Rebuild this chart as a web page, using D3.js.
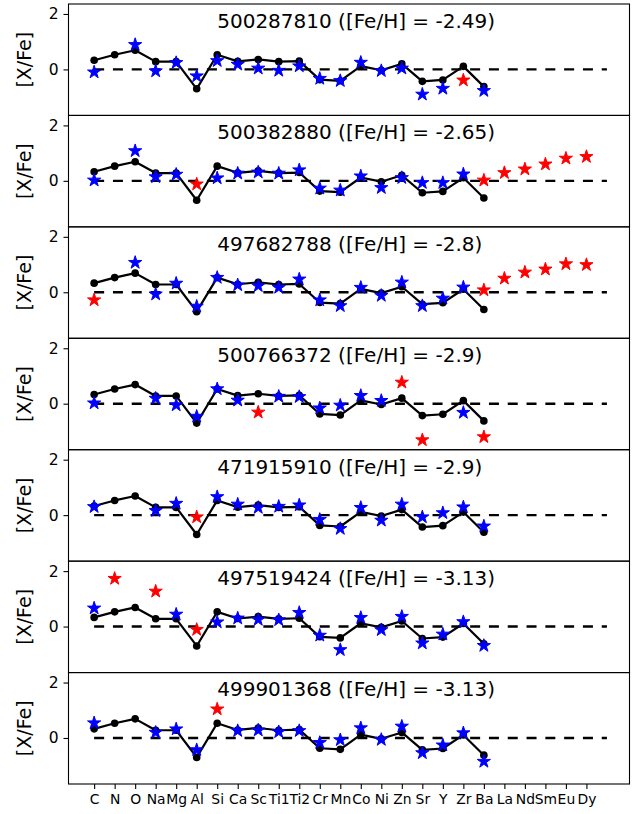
<!DOCTYPE html>
<html>
<head>
<meta charset="utf-8">
<script src="https://cdn.jsdelivr.net/npm/d3@7"></script>
<style>
  html, body { margin: 0; padding: 0; background: #fff; }
  svg { display: block; font-family: "DejaVu Sans", sans-serif; }
</style>
</head>
<body>
<svg id="chart" width="636" height="814"></svg>
<script>
const N = null;
const categories = ["C","N","O","Na","Mg","Al","Si","Ca","Sc","Ti1","Ti2","Cr","Mn","Co","Ni","Zn","Sr","Y","Zr","Ba","La","Nd","Sm","Eu","Dy"];
// reference pattern (black line), C .. Ba
const refPattern = [0.33,0.53,0.69,0.28,0.28,-0.70,0.53,0.29,0.36,0.28,0.30,-0.37,-0.41,0.12,-0.03,0.20,-0.43,-0.38,0.11,-0.62];
const starIds = ["500287810","500382880","497682788","500766372","471915910","497519424","499901368"];
const starFeH = ["-2.49","-2.65","-2.8","-2.9","-2.9","-3.13","-3.13"];

const blue1 = [-0.10,N,0.89,-0.06,0.24,-0.24,0.31,0.18,0.04,-0.04,0.12,-0.33,-0.41,0.25,-0.05,0.04,-0.90,-0.69,N,-0.77,N,N,N,N,N];
const red1  = [N,N,N,N,N,N,N,N,N,N,N,N,N,N,N,N,N,N,-0.39,N,N,N,N,N,N];
const blue2 = [0.02,N,1.08,0.14,0.23,N,0.10,0.27,0.31,0.27,0.39,-0.27,-0.34,0.17,-0.25,0.11,-0.07,-0.07,0.24,N,N,N,N,N,N];
const red2  = [N,N,N,N,N,-0.12,N,N,N,N,N,N,N,N,N,N,N,N,N,0.02,0.29,0.42,0.60,0.81,0.87];
const blue3 = [N,N,1.07,-0.07,0.32,-0.51,0.53,0.26,0.23,0.17,0.47,-0.28,-0.49,0.17,-0.12,0.36,-0.49,-0.22,0.18,N,N,N,N,N,N];
const red3  = [-0.28,N,N,N,N,N,N,N,N,N,N,N,N,N,N,N,N,N,N,0.08,0.50,0.72,0.83,1.02,0.99];
const blue4 = [0.02,N,N,0.19,-0.05,-0.46,0.53,0.12,N,0.26,0.25,-0.16,-0.06,0.29,0.11,N,N,N,-0.32,N,N,N,N,N,N];
const red4  = [N,N,N,N,N,N,N,N,-0.31,N,N,N,N,N,N,0.77,-1.31,N,N,-1.20,N,N,N,N,N];
const blue5 = [0.30,N,N,0.16,0.42,N,0.66,0.39,0.27,0.31,0.36,-0.16,-0.49,0.27,-0.19,0.39,-0.07,0.08,0.29,-0.40,N,N,N,N,N];
const red5  = [N,N,N,N,N,-0.07,N,N,N,N,N,N,N,N,N,N,N,N,N,N,N,N,N,N,N];
const blue6 = [0.66,N,N,N,0.44,N,0.16,0.30,0.25,0.24,0.50,-0.32,-0.84,0.32,-0.12,0.36,-0.60,-0.28,0.17,-0.69,N,N,N,N,N];
const red6  = [N,1.73,N,1.27,N,-0.11,N,N,N,N,N,N,N,N,N,N,N,N,N,N,N,N,N,N,N];
const blue7 = [0.54,N,N,0.20,0.32,-0.43,N,0.26,0.28,0.22,0.26,-0.17,-0.07,0.36,-0.06,0.42,-0.54,-0.26,0.18,-0.85,N,N,N,N,N];
const red7  = [N,N,N,N,N,N,1.04,N,N,N,N,N,N,N,N,N,N,N,N,N,N,N,N,N,N];

const blueSets = [blue1,blue2,blue3,blue4,blue5,blue6,blue7];
const redSets  = [red1,red2,red3,red4,red5,red6,red7];
const yTickValues = [0, 2];

// layout
const plotLeft = 68.5, plotRight = 629.5, plotTop = 4, plotBottom = 784;
const nPanels = starIds.length;
const panelH = (plotBottom - plotTop) / nPanels;

const svg = d3.select("#chart");
const x = d3.scaleLinear().domain([-1.25, 26.1]).range([plotLeft, plotRight]);
const idx = d3.range(categories.length);

starIds.forEach((id, p) => {
  const y0 = plotTop + p * panelH;
  const y = d3.scaleLinear().domain([-1.66, 2.36]).range([y0 + panelH, y0]);
  const g = svg.append("g");

  // y axis
  const yAxis = d3.axisLeft(y).tickValues(yTickValues).tickFormat(d3.format("d")).tickSize(5).tickPadding(5);
  const ya = g.append("g").attr("transform", `translate(${plotLeft},0)`).call(yAxis);
  ya.select(".domain").remove();
  ya.selectAll("line").attr("stroke", "#000").attr("stroke-width", 1.1);
  ya.selectAll("text").attr("font-size", 15.5).attr("fill", "#000").attr("font-family", "DejaVu Sans");

  // dashed zero line
  g.append("line")
    .attr("x1", x(0)).attr("x2", x(25))
    .attr("y1", y(0)).attr("y2", y(0))
    .attr("stroke", "#000").attr("stroke-width", 2.4)
    .attr("stroke-dasharray", "10,8.8");

  // reference pattern
  const line = d3.line().x((d, i) => x(i)).y(d => y(d));
  g.append("path").datum(refPattern)
    .attr("d", line).attr("fill", "none")
    .attr("stroke", "#000").attr("stroke-width", 2.2).attr("stroke-linejoin", "round");
  g.selectAll("circle.ref").data(refPattern).join("circle")
    .attr("class", "ref")
    .attr("cx", (d, i) => x(i)).attr("cy", d => y(d)).attr("r", 3.8).attr("fill", "#000");

  // stars
  const star = d3.symbol().type(d3.symbolStar).size(54);
  const drawStars = (vals, color) => {
    g.selectAll(null).data(idx.filter(i => vals[i] !== null)).join("path")
      .attr("d", star)
      .attr("transform", i => `translate(${x(i)},${y(vals[i])})`)
      .attr("fill", color).attr("stroke", color).attr("stroke-width", 1);
  };
  drawStars(blueSets[p], "#0000ff");
  drawStars(redSets[p], "#ff0000");

  // label
  g.append("text")
    .attr("x", x(6)).attr("y", y(1.5))
    .attr("font-size", 20).attr("fill", "#000")
    .text(`${id} ([Fe/H] = ${starFeH[p]})`);

  // y label
  g.append("text")
    .attr("transform", `translate(${31},${y0 + panelH / 2}) rotate(-90)`)
    .attr("text-anchor", "middle")
    .attr("font-size", 19)
    .attr("fill", "#000")
    .text("[X/Fe]");

  // frame
  g.append("rect")
    .attr("x", plotLeft).attr("y", y0).attr("width", plotRight - plotLeft).attr("height", panelH)
    .attr("fill", "none").attr("stroke", "#000").attr("stroke-width", 1.1);

  // x axis on the last panel
  if (p === nPanels - 1) {
    const xAxis = d3.axisBottom(x).tickValues(idx).tickFormat(i => categories[i]).tickSize(5).tickPadding(5);
    const xa = g.append("g").attr("transform", `translate(0,${y0 + panelH})`).call(xAxis);
    xa.select(".domain").remove();
    xa.selectAll("line").attr("stroke", "#000").attr("stroke-width", 1.1);
    xa.selectAll("text").attr("font-size", 13.9).attr("fill", "#000").attr("font-family", "DejaVu Sans");
  }
});
</script>
</body>
</html>
